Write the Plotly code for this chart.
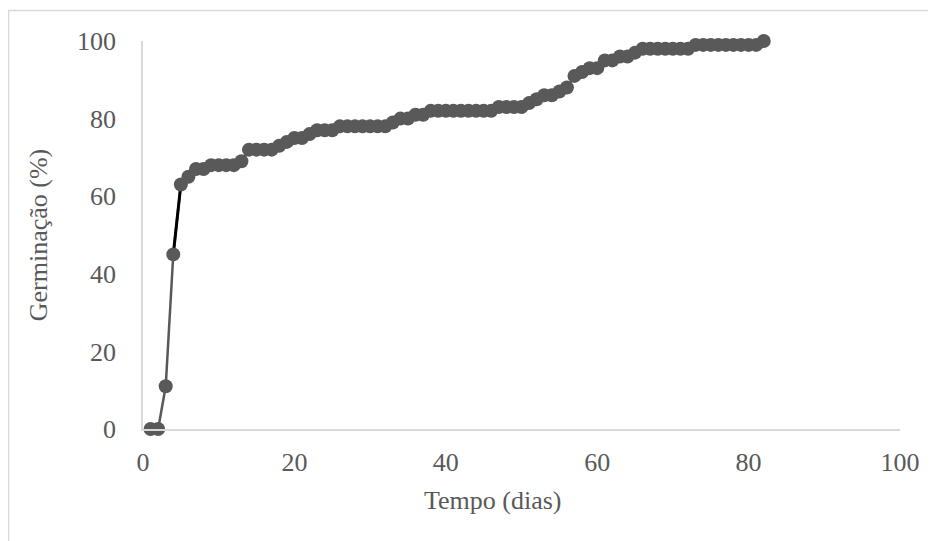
import plotly.graph_objects as go

# Data
dias = list(range(1, 83))
germinacao = [
    0, 0, 11, 45, 63, 65, 67, 67, 68, 68,      # 1-10
    68, 68, 69, 72, 72, 72, 72, 73, 74, 75,    # 11-20
    75, 76, 77, 77, 77, 78, 78, 78, 78, 78,    # 21-30
    78, 78, 79, 80, 80, 81, 81, 82, 82, 82,    # 31-40
    82, 82, 82, 82, 82, 82, 83, 83, 83, 83,    # 41-50
    84, 85, 86, 86, 87, 88, 91, 92, 93, 93,    # 51-60
    95, 95, 96, 96, 97, 98, 98, 98, 98, 98,    # 61-70
    98, 98, 99, 99, 99, 99, 99, 99, 99, 99,    # 71-80
    99, 100,                                   # 81-82
]
x_ticks = [0, 20, 40, 60, 80, 100]
y_ticks = [0, 20, 40, 60, 80, 100]
x_title = "Tempo (dias)"
y_title = "Germinação (%)"

GRAY = "#595959"
AXIS = "#d9d9d9"
FONT = "Liberation Serif"
FS = 26

fig = go.Figure()
fig.add_trace(go.Scatter(
    x=dias, y=germinacao, mode="lines",
    line=dict(color=GRAY, width=2.5), cliponaxis=False,
    hoverinfo="skip", showlegend=False,
))
# black segment between day 4 and day 5
fig.add_trace(go.Scatter(
    x=dias[3:5], y=germinacao[3:5], mode="lines",
    line=dict(color="#000000", width=3), cliponaxis=False,
    hoverinfo="skip", showlegend=False,
))
fig.add_trace(go.Scatter(
    x=dias, y=germinacao, mode="markers",
    marker=dict(color=GRAY, size=14, line=dict(width=0)),
    cliponaxis=False, showlegend=False,
))

# page adds an 8px body margin, so figure coords = window coords - 8
L, R, T, B = 135, 44, 33, 120
W, H = 936, 541
pw, ph = W - L - R, H - T - B

def px(xp):
    return (xp - L) / pw

def py(yp):
    return (H - B - yp) / ph

fig.update_layout(
    width=W, height=H,
    margin=dict(l=L, r=R, t=T, b=B, autoexpand=False),
    paper_bgcolor="white", plot_bgcolor="white",
    font=dict(family=FONT, size=FS, color=GRAY),
    showlegend=False,
    xaxis=dict(
        range=[0, 100], tickvals=x_ticks, ticktext=[str(v) for v in x_ticks],
        showgrid=False, zeroline=False, showline=True, linecolor=AXIS, linewidth=1.5,
        ticks="", ticklabelstandoff=9,
        automargin=False,
    ),
    yaxis=dict(
        range=[0, 100], tickvals=y_ticks, ticktext=[str(v) for v in y_ticks],
        showgrid=False, zeroline=False, showline=True, linecolor=AXIS, linewidth=1.5,
        ticks="", ticklabelstandoff=20,
        title=dict(text=y_title, standoff=22, font=dict(size=FS, color=GRAY)),
        automargin=False,
    ),
    annotations=[
        dict(text=x_title, xref="paper", yref="paper",
             x=px(485), y=py(492), xanchor="center", yanchor="middle",
             showarrow=False, font=dict(size=FS, color=GRAY)),
    ],
    shapes=[
        dict(type="rect", xref="paper", yref="paper",
             x0=px(0.5), x1=px(945), y0=py(560), y1=py(2.5),
             line=dict(color=AXIS, width=1.5), fillcolor="rgba(0,0,0,0)",
             layer="below"),
    ],
)

fig.write_html("out.html")
